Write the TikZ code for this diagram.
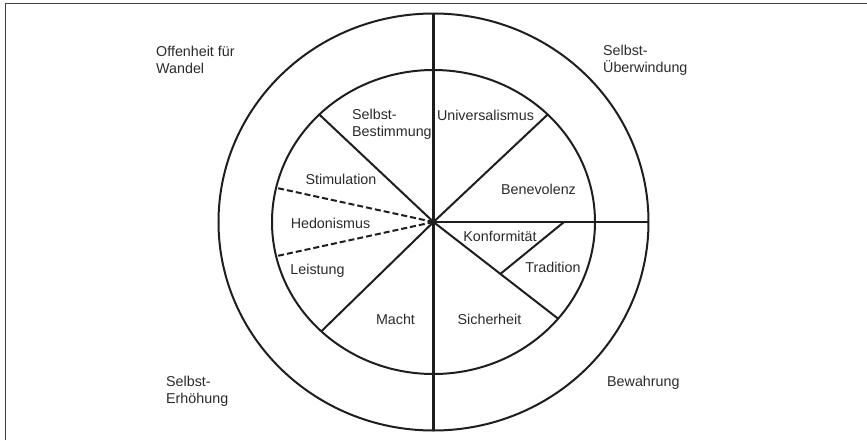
\documentclass[tikz,border=0pt]{standalone}
\usepackage{fontspec}
\setmainfont{Liberation Sans}
\definecolor{ink}{HTML}{1E1E1E}
\definecolor{txt}{HTML}{2A2A2A}
\tikzset{
  ring/.style={draw=ink, line width=2pt},
  spoke/.style={draw=ink, line width=2pt},
  dspoke/.style={spoke, dash pattern=on 6pt off 3pt},
  frame/.style={draw=black!75, line width=1.5pt},
  lbl/.style={font=\fontsize{14.3}{17}\selectfont, text=txt, inner sep=0pt, align=left},
}

\begin{document}
\begin{tikzpicture}[x=1pt, y=1pt]
    \useasboundingbox (-433.5,-218) rectangle (433.5,222);
    \draw[frame] (-428,-218) -- (-428,218.5) -- (433.5,218.5);
    \coordinate (c) at (0,0);
    % the two rings
    \draw[ring] (c) ellipse [x radius=215, y radius=208.5];
    \draw[ring] (c) ellipse [x radius=161.5, y radius=152];
    % ends of the spokes
    \coordinate (otop) at (0,208.5);
    \coordinate (obot) at (0,-208.5);
    \coordinate (oright) at (215,0);
    \coordinate (ul) at (135:161.5 and 152);
    \coordinate (ur) at (45:161.5 and 152);
    \coordinate (ll) at (226:161.5 and 152);
    \coordinate (lr) at (-39.5:161.5 and 152);
    \coordinate (hu) at (167:161.5 and 152);
    \coordinate (hl) at (193:161.5 and 152);
    \coordinate (tr) at (130.5,0);
    \coordinate (tl) at (67,-51.8);
    \draw[spoke] (otop) -- (obot);
    \draw[spoke] (c) -- (oright);
    \draw[spoke] (c) -- (ul); \draw[spoke] (c) -- (ur);
    \draw[spoke] (c) -- (ll); \draw[spoke] (c) -- (lr);
    \draw[spoke] (tr) -- (tl);
    \draw[dspoke] (c) -- (hu); \draw[dspoke] (c) -- (hl);
    % outer groups
    \node[lbl, anchor=west] (offenheit) at (-277.5,162) {Offenheit für\\Wandel};
    \node[lbl, anchor=west] (ueberwindung) at (169.5,162) {Selbst-\\Überwindung};
    \node[lbl, anchor=west] (erhoehung) at (-267.5,-169.5) {Selbst-\\Erhöhung};
    \node[lbl, anchor=west] (bewahrung) at (173.5,-161) {Bewahrung};
    % values
    \node[lbl, anchor=west] (bestimmung) at (-81.5,97.5) {Selbst-\\Bestimmung};
    \node[lbl] (universalismus) at (52,107) {Universalismus};
    \node[lbl] (benevolenz) at (105,33) {Benevolenz};
    \node[lbl] (stimulation) at (-92.5,43) {Stimulation};
    \node[lbl] (hedonismus) at (-103,-1) {Hedonismus};
    \node[lbl] (leistung) at (-116,-49) {Leistung};
    \node[lbl] (konformitaet) at (66.5,-14) {Konformität};
    \node[lbl] (tradition) at (119.5,-45) {Tradition};
    \node[lbl] (macht) at (-38,-97) {Macht};
    \node[lbl] (sicherheit) at (56,-97) {Sicherheit};
\end{tikzpicture}
\end{document}
